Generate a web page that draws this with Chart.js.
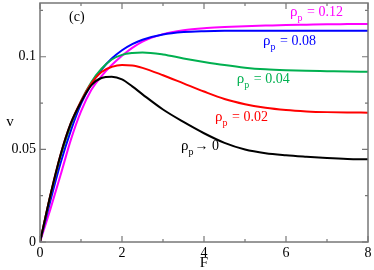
<!DOCTYPE html>
<html>
<head>
<meta charset="utf-8">
<script src="https://cdn.jsdelivr.net/npm/chart.js@4/dist/chart.umd.min.js"></script>
<style>
  body { margin: 0; background: #fff; }
  canvas { display: block; }
</style>
</head>
<body>
<canvas id="chart" width="374" height="270"></canvas>
<script>
// DATA
const forceValues = [0, 0.25, 0.5, 0.75, 1, 1.25, 1.5, 1.75, 2, 2.25, 2.5, 3, 3.5, 4, 4.5, 5, 5.5, 6, 6.5, 7, 7.5, 8];
const rho0 = [0, 0.025, 0.047, 0.064, 0.0755, 0.0845, 0.0885, 0.0892, 0.0878, 0.0840, 0.0797, 0.0715, 0.0648, 0.0587, 0.0535, 0.0499, 0.0479, 0.0468, 0.0460, 0.0453, 0.0448, 0.0446];
const rho002 = [0, 0.025, 0.047, 0.064, 0.0760, 0.0855, 0.0918, 0.0945, 0.0955, 0.0953, 0.0940, 0.0900, 0.0856, 0.0812, 0.0772, 0.0744, 0.0724, 0.0712, 0.0705, 0.0701, 0.0699, 0.0698];
const rho004 = [0, 0.0245, 0.046, 0.063, 0.0760, 0.0862, 0.0935, 0.0985, 0.1010, 0.1020, 0.1023, 0.1012, 0.0991, 0.0972, 0.0955, 0.0941, 0.0932, 0.0927, 0.0924, 0.0922, 0.0920, 0.0919];
const rho008 = [0, 0.022, 0.0425, 0.060, 0.0745, 0.0852, 0.0930, 0.0990, 0.1035, 0.1068, 0.1092, 0.1120, 0.1133, 0.1138, 0.1140, 0.1140, 0.1140, 0.1140, 0.1140, 0.1140, 0.1140, 0.1140];
const rho012 = [0, 0.0175, 0.036, 0.055, 0.0705, 0.0820, 0.0895, 0.0955, 0.1005, 0.1048, 0.1082, 0.1122, 0.1143, 0.1154, 0.1160, 0.1165, 0.1168, 0.1171, 0.1173, 0.1175, 0.1176, 0.1177];

const xTicks = [0, 2, 4, 6, 8];
const xMinorTicks = [1, 3, 5, 7];
const yTicks = [0, 0.05, 0.1];
const yMinorTicks = [0.025, 0.075, 0.125];

// curve labels, anchored in data coordinates (left edge, middle)
const curveLabels = [
  { rest: " = 0.12", color: "#ff00ff", F: 6.1, v: 0.124 },
  { rest: " = 0.08", color: "#0000ff", F: 5.44, v: 0.1085 },
  { rest: " = 0.04", color: "#00b050", F: 4.8, v: 0.088 },
  { rest: " = 0.02", color: "#ff0000", F: 4.27, v: 0.0675 },
  { rest: "\u2192 0", color: "#000000", F: 3.44, v: 0.0518 },
];

const SERIF = "'Liberation Serif', 'DejaVu Serif', serif";

function toPoints(values) {
  return forceValues.map((f, i) => ({ x: f, y: values[i] }));
}

function line(values, color) {
  return {
    data: toPoints(values),
    borderColor: color,
    borderWidth: 2,
    pointRadius: 0,
    fill: false,
    cubicInterpolationMode: "monotone",
  };
}

// frame, inward ticks on all four sides, and the text
const framePlugin = {
  id: "frame",
  afterDatasetsDraw(chart) {
    const { ctx, chartArea: a, scales } = chart;
    const x = scales.x, y = scales.y;
    ctx.save();
    ctx.strokeStyle = "#777";
    ctx.lineWidth = 1.5;
    ctx.strokeRect(a.left, a.top, a.right - a.left, a.bottom - a.top);

    ctx.lineWidth = 1.2;
    ctx.beginPath();
    const xt = (vals, len) => vals.forEach(v => {
      const px = x.getPixelForValue(v);
      ctx.moveTo(px, a.bottom); ctx.lineTo(px, a.bottom - len);
      ctx.moveTo(px, a.top); ctx.lineTo(px, a.top + len);
    });
    const yt = (vals, len) => vals.forEach(v => {
      const py = y.getPixelForValue(v);
      ctx.moveTo(a.left, py); ctx.lineTo(a.left + len, py);
      ctx.moveTo(a.right, py); ctx.lineTo(a.right - len, py);
    });
    xt(xTicks, 6); xt(xMinorTicks, 3);
    yt(yTicks, 6); yt(yMinorTicks, 3);
    ctx.stroke();

    // axis titles
    ctx.fillStyle = "#000";
    ctx.font = "15px " + SERIF;
    ctx.textAlign = "center";
    ctx.textBaseline = "middle";
    ctx.fillText("F", (a.left + a.right) / 2, 263);
    ctx.fillText("v", 10, (a.top + a.bottom) / 2);

    // panel tag
    ctx.textAlign = "left";
    ctx.font = "14px " + SERIF;
    ctx.fillText("(c)", x.getPixelForValue(0.71), y.getPixelForValue(0.121));

    curveLabels.forEach(l => {
      let px = x.getPixelForValue(l.F);
      const py = y.getPixelForValue(l.v);
      ctx.fillStyle = l.color;
      ctx.font = "15px " + SERIF;
      ctx.fillText("\u03c1", px, py);
      px += ctx.measureText("\u03c1").width;
      ctx.font = "10px " + SERIF;
      ctx.fillText("p", px, py + 6);
      px += ctx.measureText("p").width + 1;
      ctx.font = "14px " + SERIF;
      ctx.fillText(l.rest, px, py);
    });
    ctx.restore();
  }
};

new Chart(document.getElementById("chart").getContext("2d"), {
  type: "line",
  data: {
    datasets: [
      line(rho0, "#000000"),
      line(rho002, "#ff0000"),
      line(rho004, "#00b050"),
      line(rho008, "#0000ff"),
      line(rho012, "#ff00ff"),
    ],
  },
  options: {
    responsive: false,
    animation: false,
    layout: { padding: { top: 3, right: 6, left: 0, bottom: 0 } },
    plugins: { legend: { display: false }, tooltip: { enabled: false } },
    scales: {
      x: {
        type: "linear",
        min: 0,
        max: 8,
        grid: { display: false, drawTicks: false },
        border: { display: false },
        afterBuildTicks: s => { s.ticks = xTicks.map(v => ({ value: v })); },
        afterFit: s => { s.height = 28; s.paddingLeft = 0; s.paddingRight = 0; },
        ticks: { color: "#000", padding: 3, maxRotation: 0, font: { family: SERIF, size: 14 } },
      },
      y: {
        type: "linear",
        min: 0,
        max: 0.129,
        grid: { display: false, drawTicks: false },
        border: { display: false },
        afterBuildTicks: s => { s.ticks = yTicks.map(v => ({ value: v })); },
        afterFit: s => { s.width = 40; s.paddingTop = 0; s.paddingBottom = 0; },
        ticks: { color: "#000", padding: 4, font: { family: SERIF, size: 14 }, callback: v => String(v) },
      },
    },
  },
  plugins: [framePlugin],
});
</script>
</body>
</html>
